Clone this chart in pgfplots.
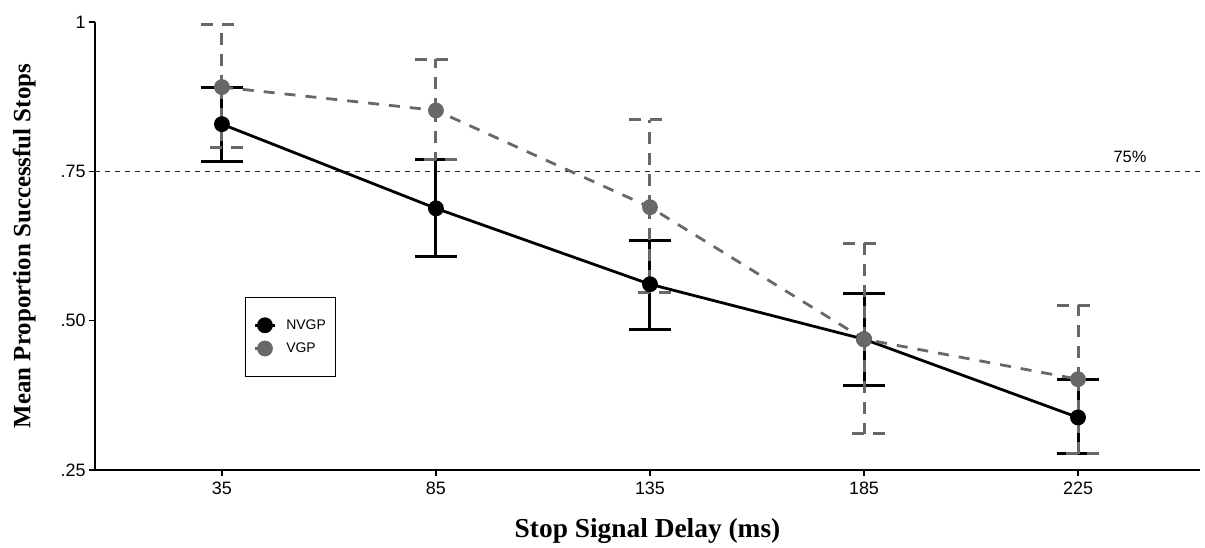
\documentclass[border=0pt]{standalone}
\usepackage{pgfplots}
\pgfplotsset{compat=1.18}
\usepackage{fontspec}
\setmainfont{Liberation Serif}
\setsansfont{Liberation Sans}
\definecolor{vgray}{RGB}{104,104,104}
\begin{document}
\begin{tikzpicture}
\begin{axis}[
  name=ax,
  scale only axis,
  width=1105bp, height=448bp,
  xmin=-0.593, xmax=4.570,
  ymin=0.25, ymax=1,
  axis x line*=bottom, axis y line*=left,
  axis line style={line width=1.6bp, black, -},
  xtick={0,1,2,3,4},
  xticklabels={35,85,135,185,225},
  ytick={0.25,0.5,0.75,1},
  yticklabels={.25,.50,.75,1},
  tick align=outside,
  major tick length=6bp,
  tick style={line width=1.4bp, black},
  tick label style={font=\fontsize{18}{18}\sffamily},
  xticklabel style={yshift=-2bp},
  xlabel={Stop Signal Delay (ms)},
  ylabel={Mean Proportion Successful Stops},
  xlabel style={font=\fontsize{27.5}{27.5}\selectfont\bfseries, at={(axis description cs:0.5,-0.136)}, anchor=center},
  ylabel style={font=\fontsize{25}{25}\selectfont\bfseries, at={(axis description cs:-0.064,0.5)}, anchor=center, rotate=0},
  clip=false,
  legend style={at={(rel axis cs:0.1357,0.386)}, anchor=north west, draw=black, line width=1.2bp,
    font=\fontsize{14}{14}\sffamily, inner xsep=8bp, inner ysep=20bp, row sep=8bp, column sep=8bp,
    cells={anchor=west}},
  legend image code/.code={\draw[mark repeat=2,mark phase=2,#1,mark size=6.5bp] plot coordinates {(0bp,0bp) (10bp,0bp) (20bp,0bp)};},
]
% 75% reference line
\addplot[forget plot, black!85, line width=1.4bp, dash pattern=on 5bp off 5bp] coordinates {(-0.593,0.75) (4.570,0.75)};
\node[font=\fontsize{16.5}{16.5}\sffamily, anchor=base] at (axis cs:4.243,0.765) {75\%};

% NVGP
\addplot[black, line width=2.8bp, mark=*, mark size=6.5bp,
  error bars/.cd, y dir=both, y explicit,
  error bar style={line width=3bp, black, solid},
  error mark options={rotate=90, line width=3bp, mark size=21bp, black, solid}]
coordinates {
  (0,0.829) += (0,0.062) -= (0,0.062)
  (1,0.688) += (0,0.081) -= (0,0.080)
  (2,0.561) += (0,0.074) -= (0,0.075)
  (3,0.469) += (0,0.076) -= (0,0.078)
  (4,0.338) += (0,0.064) -= (0,0.061)
};
\addlegendentry{NVGP}

% VGP
\addplot[vgray, line width=2.8bp, dash pattern=on 11bp off 10bp, mark=*, mark size=6.5bp, mark options={solid},
  error bars/.cd, y dir=both, y explicit,
  error bar style={line width=3bp, vgray, dash pattern=on 12bp off 9bp},
  error mark options={rotate=90, line width=3bp, mark size=21bp, vgray, dash pattern=on 12bp off 9bp}]
coordinates {
  (0,0.891) += (0,0.104) -= (0,0.101)
  (1,0.852) += (0,0.086) -= (0,0.083)
  (2,0.690) += (0,0.146) -= (0,0.143)
  (3,0.469) += (0,0.161) -= (0,0.158)
  (4,0.402) += (0,0.124) -= (0,0.125)
};
\addlegendentry{VGP}
\end{axis}
\pgfresetboundingbox
\useasboundingbox (ax.south west) ++(-95bp,-78bp) rectangle ++(1205bp,548bp);
\end{tikzpicture}
\end{document}
